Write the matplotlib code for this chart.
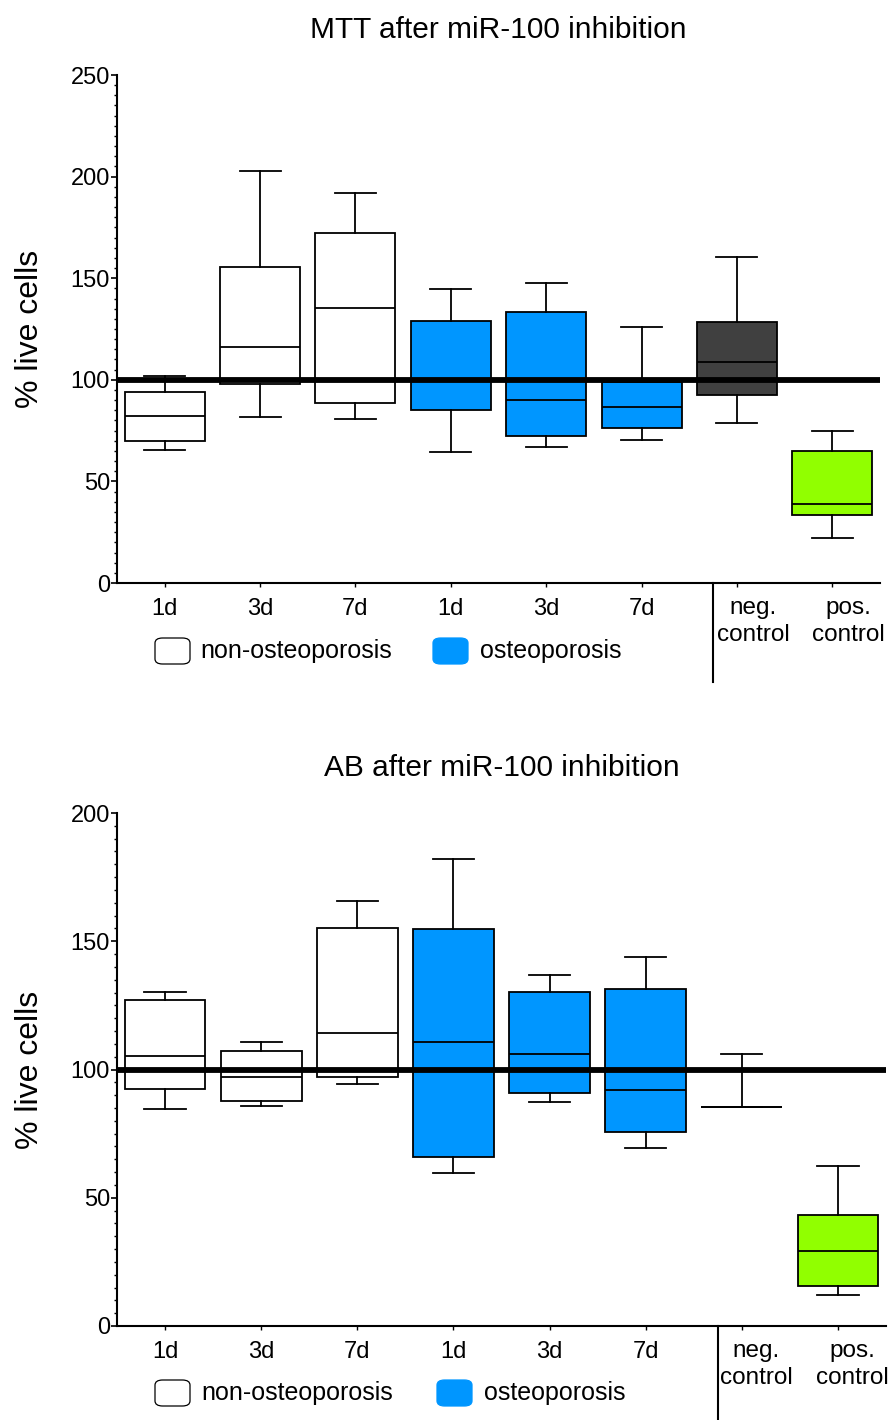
import matplotlib
matplotlib.use("Agg")
import matplotlib.pyplot as plt
import matplotlib.transforms as mtransforms
from matplotlib.patches import FancyBboxPatch
from matplotlib.ticker import MultipleLocator

plt.rcParams["font.family"] = ["Liberation Sans", "DejaVu Sans"]

groups = ["1d", "3d", "7d", "1d", "3d", "7d", "neg.\ncontrol", "pos.\ncontrol"]
box_colors = ["white"] * 3 + ["#0096ff"] * 3 + ["#404040", "#91ff00"]
legend_names = ["non-osteoporosis", "osteoporosis"]
legend_colors = ["white", "#0096ff"]

# MTT assay, % live cells (box stats)
mtt_low  = [65.4, 81.7, 80.6, 64.5, 66.8, 70.6, 78.5, 22.0]
mtt_q1   = [69.7, 97.9, 88.4, 84.9, 72.4, 76.4, 92.4, 33.7]
mtt_med  = [82.0, 116.3, 135.5, 100.0, 90.0, 86.6, 108.7, 38.7]
mtt_q3   = [94.0, 155.5, 172.0, 128.9, 133.2, 99.1, 128.6, 65.0]
mtt_high = [102.0, 202.7, 191.8, 144.9, 147.4, 125.8, 160.6, 75.0]

# AB assay
ab_low  = [84.6, 85.6, 94.2, 59.5, 87.4, 69.3, 85.3, 12.1]
ab_q1   = [92.3, 87.9, 97.1, 65.8, 91.0, 75.8, 85.3, 15.6]
ab_med  = [105.4, 96.9, 114.3, 110.9, 106.1, 92.0, 85.3, 29.4]
ab_q3   = [127.2, 107.3, 155.0, 154.8, 130.2, 131.4, 85.3, 43.1]
ab_high = [130.3, 110.7, 165.6, 182.2, 136.9, 143.7, 106.0, 62.3]

FIG_W, FIG_H = 889, 1420


def draw_panel(ax, title, low, q1, med, q3, high, ymax, sep_depth, ylab_x, ctrl_dx):
    stats = [
        dict(whislo=a, q1=b, med=c, q3=d, whishi=e, fliers=[])
        for a, b, c, d, e in zip(low, q1, med, q3, high)
    ]
    pos = list(range(1, len(stats) + 1))
    bp = ax.bxp(
        stats, positions=pos, widths=0.84, capwidths=0.43,
        patch_artist=True, showfliers=False,
        boxprops=dict(linewidth=1.3, edgecolor="black"),
        medianprops=dict(color="black", linewidth=1.3),
        whiskerprops=dict(color="black", linewidth=1.3),
        capprops=dict(color="black", linewidth=1.3),
    )
    for patch, col in zip(bp["boxes"], box_colors):
        patch.set_facecolor(col)

    ax.axhline(100, color="black", linewidth=4.2, solid_capstyle="round", zorder=5)

    ax.set_xlim(0.5, len(stats) + 0.5)
    ax.set_ylim(0, ymax)
    ax.yaxis.set_major_locator(MultipleLocator(50))
    ax.yaxis.set_minor_locator(MultipleLocator(5))
    ax.tick_params(axis="y", which="major", length=4, width=1.2, labelsize=17, pad=1)
    ax.tick_params(axis="y", which="minor", length=2.2, width=1.0)
    ax.set_xticks(pos)
    ax.set_xticklabels(groups[:6] + ["", ""])
    ax.tick_params(axis="x", length=3, width=1.0, labelsize=17, pad=8)
    for s in ("top", "right"):
        ax.spines[s].set_visible(False)
    for s in ("left", "bottom"):
        ax.spines[s].set_linewidth(1.5)

    trans = mtransforms.blended_transform_factory(ax.transData, ax.transAxes)
    for x, lab in zip(pos[6:], groups[6:]):
        ax.text(x + ctrl_dx, -0.028, lab, transform=trans, ha="center", va="top",
                fontsize=17.5, linespacing=1.3)
    ax.plot([6.75, 6.75], [0.0, -sep_depth], transform=trans, color="black",
            linewidth=1.5, clip_on=False)

    ax.set_title(title, fontsize=21.5, pad=27)
    ax.set_ylabel("% live cells", fontsize=23)
    ax.yaxis.set_label_coords(ylab_x, 0.5)


def draw_legend(ax, x0_px, y_top_px, ax_left, ax_right, ax_top, ax_bot):
    # pixel positions -> axes fractions
    w_ax = ax_right - ax_left
    h_ax = ax_bot - ax_top
    sq_w, sq_h = 35, 26
    for (sx, tx), name, col in zip(x0_px, legend_names, legend_colors):
        fx = (sx - ax_left) / w_ax
        fy = (ax_bot - (y_top_px + sq_h)) / h_ax
        box = FancyBboxPatch(
            (fx, fy), sq_w / w_ax, sq_h / h_ax,
            boxstyle="round,pad=0,rounding_size=0.01",
            transform=ax.transAxes, clip_on=False,
            facecolor=col, edgecolor="black" if col == "white" else col,
            linewidth=0.9,
        )
        ax.add_patch(box)
        ax.text((tx - ax_left) / w_ax, (ax_bot - (y_top_px + sq_h / 2)) / h_ax,
                name, transform=ax.transAxes, ha="left", va="center",
                fontsize=18)


fig = plt.figure(figsize=(FIG_W / 100, FIG_H / 100), dpi=100)

# top panel: pixel box 117..880 x 75..583
ax1 = fig.add_axes([117 / FIG_W, (FIG_H - 583) / FIG_H,
                    (880 - 117) / FIG_W, (583 - 75) / FIG_H])
draw_panel(ax1, "MTT after miR-100 inhibition",
           mtt_low, mtt_q1, mtt_med, mtt_q3, mtt_high, 250, 0.195,
           (45 - 117) / (880 - 117), 0.17)
draw_legend(ax1, [(155, 200), (433, 480)], 638, 117, 880, 75, 583)

# bottom panel: pixel box 117..886 x 813..1326
ax2 = fig.add_axes([117 / FIG_W, (FIG_H - 1326) / FIG_H,
                    (886 - 117) / FIG_W, (1326 - 813) / FIG_H])
draw_panel(ax2, "AB after miR-100 inhibition",
           ab_low, ab_q1, ab_med, ab_q3, ab_high, 200, 0.2,
           (45 - 117) / (886 - 117), 0.15)
draw_legend(ax2, [(155, 201), (437, 484)], 1380, 117, 886, 813, 1326)

fig.savefig("out.png", dpi=100)
